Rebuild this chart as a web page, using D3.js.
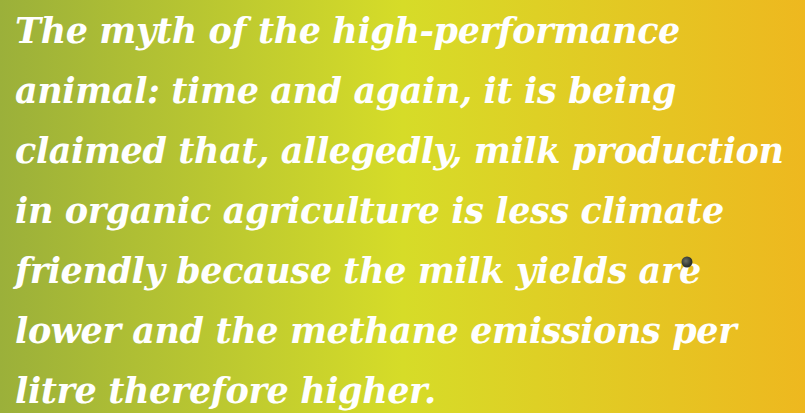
<!DOCTYPE html>
<html>
<head>
<meta charset="utf-8">
<script src="https://cdn.jsdelivr.net/npm/d3@7"></script>
<style>
  html, body { margin: 0; padding: 0; overflow: hidden; }
  svg { display: block; }
</style>
</head>
<body>
<svg id="chart"></svg>
<script>
const lines = [
  'The myth of the high-performance',
  'animal: time and again, it is being',
  'claimed that, allegedly, milk production',
  'in organic agriculture is less climate',
  'friendly because the milk yields are',
  'lower and the methane emissions per',
  'litre therefore higher.'
]
const gradientStops = [0, 0.5, 1]
const gradientColors = ['#9bb03a', '#d6dc28', '#eeb81f']

const width = 805
const height = 413
const svg = d3.select('#chart').attr('width', width).attr('height', height)

const defs = svg.append('defs')
const grad = defs.append('linearGradient').attr('id', 'bg').attr('x1', 0).attr('x2', 1).attr('y1', 0).attr('y2', 0)
grad.selectAll('stop').data(gradientStops).join('stop')
  .attr('offset', d => d)
  .attr('stop-color', (d, i) => gradientColors[i])

svg.append('rect').attr('width', width).attr('height', height).attr('fill', 'url(#bg)')

// baseline of each line
const y = d3.scalePoint().domain(d3.range(lines.length)).range([43, 403])

svg.selectAll('text.line').data(lines).join('text')
  .attr('class', 'line')
  .attr('x', 15)
  .attr('y', (d, i) => y(i))
  .attr('fill', '#fff')
  .style('font-family', '"DejaVu Serif", serif')
  .style('font-weight', 'bold')
  .style('font-style', 'italic')
  .style('font-size', '35px')
  .style('letter-spacing', '-0.4px')
  .text(d => d)

// small dark dot near "are"
const dotGrad = defs.append('radialGradient').attr('id', 'dot').attr('cx', 0.4).attr('cy', 0.4)
dotGrad.append('stop').attr('offset', 0).attr('stop-color', '#6a6e64')
dotGrad.append('stop').attr('offset', 1).attr('stop-color', '#2e3330')
svg.append('circle').attr('cx', 687).attr('cy', 262).attr('r', 5.5).attr('fill', 'url(#dot)')
</script>
</body>
</html>
